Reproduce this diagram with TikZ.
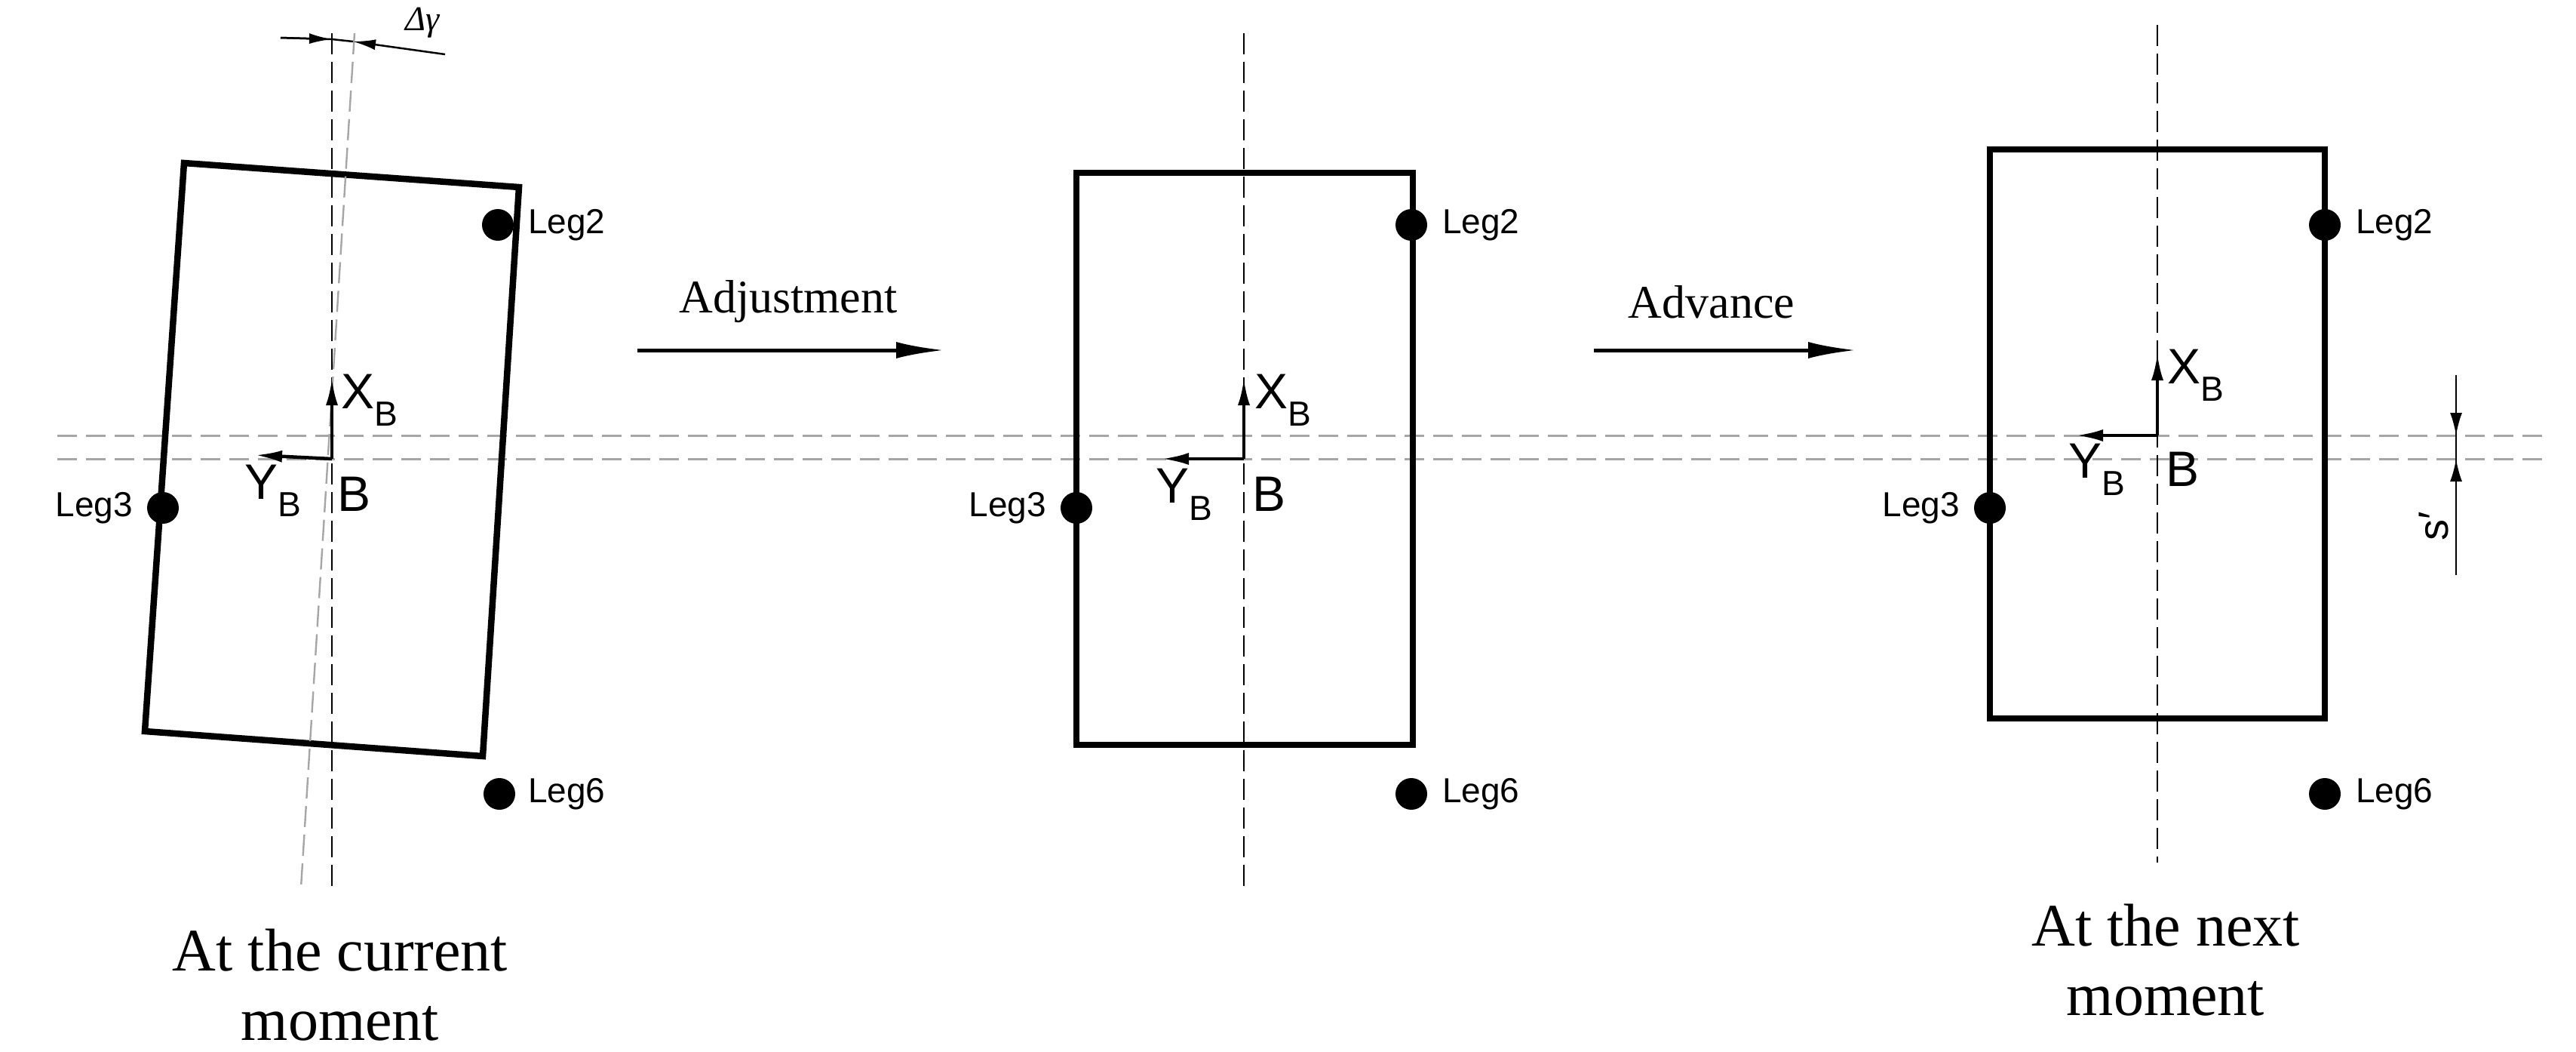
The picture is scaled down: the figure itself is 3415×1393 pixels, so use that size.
\documentclass[tikz,border=0pt]{standalone}
\usepackage{fontspec}
\setmainfont{Liberation Serif}
\setsansfont{Liberation Sans}
\usetikzlibrary{arrows.meta}
\begin{document}
\begin{tikzpicture}[x=1pt,y=-1pt,
  frame/.style={line width=8.5pt,line join=miter},
  axisline/.style={line width=2.4pt,dash pattern=on 28pt off 10pt},
  grayaxis/.style={gray!70,line width=2.4pt,dash pattern=on 28pt off 10pt},
  hgray/.style={gray!70,line width=3pt,dash pattern=on 26pt off 12pt},
  leg/.style={circle,fill=black,inner sep=0pt,minimum size=42pt},
  legtxt/.style={font=\sffamily\fontsize{46}{50}\selectfont,inner sep=0pt},
  coordtxt/.style={font=\sffamily\fontsize{66}{70}\selectfont,inner sep=0pt},
  captxt/.style={font=\fontsize{80}{92}\selectfont,align=center,inner sep=0pt},
  arrtxt/.style={font=\fontsize{62}{66}\selectfont,inner sep=0pt},
  tip/.style={-{Latex[length=36pt,width=16pt]},line width=4.5pt},
  bigtip/.style={-{Latex[length=64pt,width=22pt]},line width=5pt}]
\useasboundingbox (0,0) rectangle (3415,1393);
% horizontal reference lines
\coordinate (hl1) at (76,577); \coordinate (hr1) at (3376,577);
\coordinate (hl2) at (76,608); \coordinate (hr2) at (3376,608);
\draw[hgray] (hl1) -- (hr1);
\draw[hgray] (hl2) -- (hr2);
% ---------- panel 1 ----------
\draw[frame] (244,216) -- (688,248) -- (640,1002) -- (192,969) -- cycle;
\coordinate (v1t) at (440,44); \coordinate (v1b) at (440,1176);
\draw[axisline] (v1t) -- (v1b);
\coordinate (t1t) at (470,44); \coordinate (t1b) at (399,1176);
\draw[grayaxis] (t1t) -- (t1b);
\coordinate (B1) at (440,608);
\coordinate (X1) at (440,501); \coordinate (Y1) at (338,603);
\draw[tip] (B1) -- (X1);
\draw[tip] (B1) -- (Y1);
\node[coordtxt,anchor=west] (xb1) at (452,530) {X\textsubscript{B}};
\node[coordtxt] (yb1) at (362,650) {Y\textsubscript{B}};
\node[coordtxt] (b1) at (470,655) {B};
\node[leg] (l2a) at (660,298) {};
\node[legtxt,anchor=west] (l2at) at (700,298) {Leg2};
\node[leg] (l3a) at (216,673) {};
\node[legtxt,anchor=east] (l3at) at (176,673) {Leg3};
\node[leg] (l6a) at (662,1052) {};
\node[legtxt,anchor=west] (l6at) at (700,1052) {Leg6};
% delta gamma dimension
\coordinate (dg0) at (440,52); \coordinate (dgL) at (372,50);
\coordinate (dg1) at (468,55); \coordinate (dgR) at (590,72);
\draw[line width=2.5pt] (dgL) -- (dg0) -- (dg1);
\draw[-{Latex[length=30pt,width=14pt]},line width=2.5pt] (dgL) -- (dg0);
\draw[-{Latex[length=30pt,width=14pt]},line width=2.5pt] (dgR) -- (dg1);
\node[font=\itshape\fontsize{46}{50}\selectfont,inner sep=0pt] (dgt) at (560,30) {Δγ};
\node[captxt] (c1) at (451,1305) {At the current\\moment};
% arrows between panels
\coordinate (a1s) at (845,464); \coordinate (a1e) at (1252,464);
\draw[bigtip] (a1s) -- (a1e);
\node[arrtxt] (a1t) at (1045,400) {Adjustment};
\coordinate (a2s) at (2113,464); \coordinate (a2e) at (2461,464);
\draw[bigtip] (a2s) -- (a2e);
\node[arrtxt] (a2t) at (2269,400) {Advance};
% ---------- panel 2 ----------
\draw[frame] (1427,229) rectangle (1873,987);
\coordinate (v2t) at (1649,44); \coordinate (v2b) at (1649,1176);
\draw[axisline] (v2t) -- (v2b);
\coordinate (B2) at (1649,608);
\coordinate (X2) at (1649,501); \coordinate (Y2) at (1540,608);
\draw[tip] (B2) -- (X2);
\draw[tip] (B2) -- (Y2);
\node[coordtxt,anchor=west] (xb2) at (1663,530) {X\textsubscript{B}};
\node[coordtxt] (yb2) at (1570,655) {Y\textsubscript{B}};
\node[coordtxt] (b2) at (1682,655) {B};
\node[leg] (l2b) at (1871,298) {};
\node[legtxt,anchor=west] (l2bt) at (1912,298) {Leg2};
\node[leg] (l3b) at (1427,673) {};
\node[legtxt,anchor=east] (l3bt) at (1387,673) {Leg3};
\node[leg] (l6b) at (1871,1052) {};
\node[legtxt,anchor=west] (l6bt) at (1912,1052) {Leg6};
% ---------- panel 3 ----------
\draw[frame] (2638,198) rectangle (3082,952);
\coordinate (v3t) at (2860,33); \coordinate (v3b) at (2860,1143);
\draw[axisline] (v3t) -- (v3b);
\coordinate (B3) at (2860,577);
\coordinate (X3) at (2860,468); \coordinate (Y3) at (2752,577);
\draw[tip] (B3) -- (X3);
\draw[tip] (B3) -- (Y3);
\node[coordtxt,anchor=west] (xb3) at (2873,497) {X\textsubscript{B}};
\node[coordtxt] (yb3) at (2780,622) {Y\textsubscript{B}};
\node[coordtxt] (b3) at (2893,622) {B};
\node[leg] (l2c) at (3082,298) {};
\node[legtxt,anchor=west] (l2ct) at (3123,298) {Leg2};
\node[leg] (l3c) at (2638,673) {};
\node[legtxt,anchor=east] (l3ct) at (2598,673) {Leg3};
\node[leg] (l6c) at (3082,1052) {};
\node[legtxt,anchor=west] (l6ct) at (3123,1052) {Leg6};
\node[captxt] (c3) at (2871,1272) {At the next\\moment};
% s' dimension
\coordinate (s0) at (3256,497); \coordinate (s1) at (3256,577);
\coordinate (s2) at (3256,608); \coordinate (s3) at (3256,762);
\draw[line width=2.5pt] (s0) -- (s3);
\draw[-{Latex[length=30pt,width=16pt]},line width=2.5pt] (s0) -- (s1);
\draw[-{Latex[length=30pt,width=16pt]},line width=2.5pt] (s3) -- (s2);
\node[font=\sffamily\fontsize{56}{60}\selectfont,rotate=90,inner sep=0pt] (st) at (3226,697) {s′};
\end{tikzpicture}
\end{document}
